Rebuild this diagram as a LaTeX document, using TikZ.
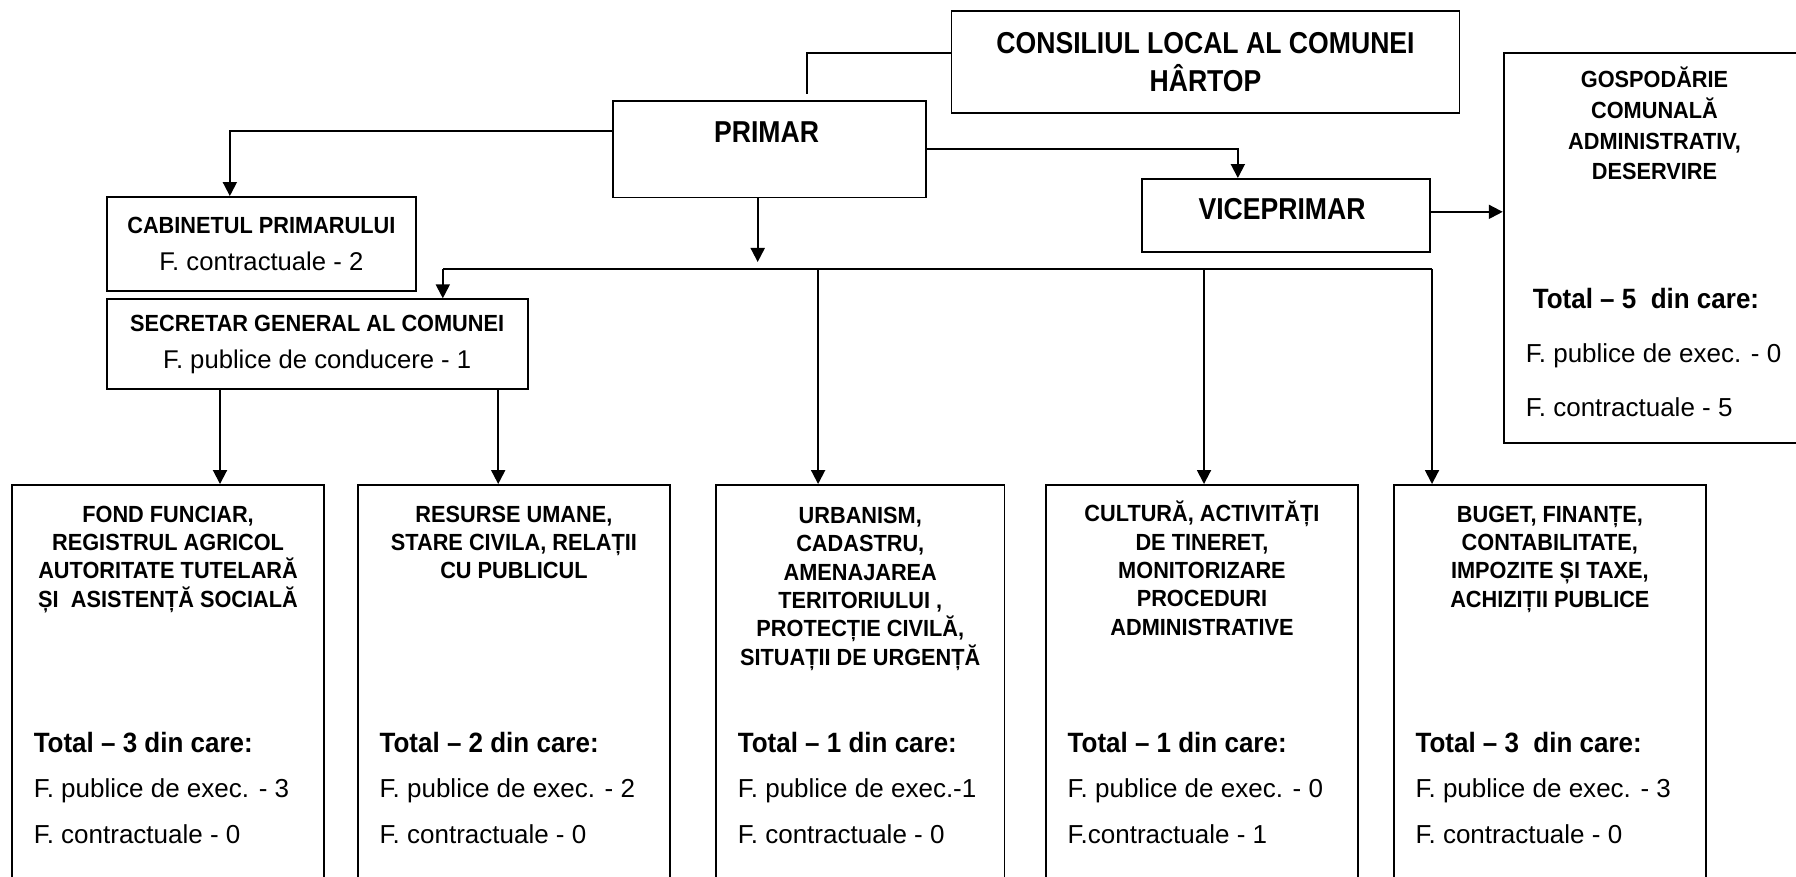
\documentclass[tikz,border=0pt]{standalone}
\usepackage{fontspec}
\setmainfont{Liberation Sans}
\newfontfamily\narrowsans[FakeStretch=0.88]{Liberation Sans}
\newfontfamily\condsans[FakeStretch=0.93]{Liberation Sans}
\usetikzlibrary{arrows.meta}
\lineskiplimit=-20pt
\newcommand{\tot}[1]{{\condsans\bfseries\fontsize{15.9}{26.1}\selectfont #1}}

\tikzset{
  box/.style={draw, line width=1.1pt, inner sep=0pt},
  link/.style={line width=1.1pt},
  arr/.style={line width=1.1pt, -{Triangle[length=2.8mm,width=2.8mm]}},
  big/.style={font=\narrowsans\bfseries\fontsize{17.2}{21.6}\selectfont},
  head/.style={font=\condsans\bfseries\fontsize{13.3}{16.1}\selectfont, align=center, inner sep=0pt, anchor=north},
  staff/.style={font=\fontsize{14.8}{26.1}\selectfont, align=left, inner sep=0pt, anchor=north west}
}

\begin{document}
\begin{tikzpicture}
\useasboundingbox (0,0) rectangle (35.92,17.52);
\clip (0,0) rectangle (35.92,17.52);

% top level
\node[box, big, align=center, minimum width=10.16cm, minimum height=2.03cm] (cons) at (24.11,16.283) {CONSILIUL LOCAL AL COMUNEI\\HÂRTOP};
\node[box, minimum width=6.26cm, minimum height=1.93cm] (primar) at (15.396,14.535) {};
\node[big, anchor=base] (primarT) at (15.33,14.666) {PRIMAR};
\node[box, minimum width=5.766cm, minimum height=1.454cm] (vice) at (25.717,13.213) {};
\node[big, anchor=base] (viceT) at (25.64,13.12) {VICEPRIMAR};

% gospodarie
\node[box, minimum width=6.046cm, minimum height=7.806cm] (gosp) at (33.097,12.563) {};
\node[head, font=\condsans\bfseries\fontsize{13.3}{17.4}\selectfont] (gospT) at (33.09,16.18) {GOSPODĂRIE\\COMUNALĂ\\ADMINISTRATIV,\\DESERVIRE};
\node[staff, font=\fontsize{14.8}{30.8}\selectfont] (gospS) at (30.51,11.76) {\tot{\hspace*{1.4mm}Total – 5\ \ din care:}\\F. publice de exec. - 0\\F. contractuale - 5};

% cabinet, secretar
\node[box, align=center, font=\fontsize{14.6}{20.8}\selectfont, minimum width=6.186cm, minimum height=1.88cm] (cab) at (5.227,12.64) {{\condsans\bfseries\fontsize{13.3}{20.8}\selectfont CABINETUL PRIMARULUI}\\F. contractuale - 2};
\node[box, align=center, font=\fontsize{14.6}{20.8}\selectfont, minimum width=8.42cm, minimum height=1.80cm] (sec) at (6.344,10.634) {{\condsans\bfseries\fontsize{13.3}{20.8}\selectfont SECRETAR GENERAL AL COMUNEI}\\F. publice de conducere - 1};

% compartimente
\node[box, minimum width=6.246cm, minimum height=8.02cm] (fond) at (3.361,3.81) {};
\node[box, minimum width=6.244cm, minimum height=8.02cm] (resurse) at (10.278,3.81) {};
\node[box, minimum width=5.77cm, minimum height=8.02cm] (urban) at (17.205,3.81) {};
\node[box, minimum width=6.246cm, minimum height=8.02cm] (cultura) at (24.039,3.81) {};
\node[box, minimum width=6.246cm, minimum height=8.02cm] (buget) at (30.997,3.81) {};

\node[head] (fondT) at (3.361,7.41) {FOND FUNCIAR,\\REGISTRUL AGRICOL\\AUTORITATE TUTELARĂ\\ȘI\ \ ASISTENȚĂ SOCIALĂ};
\node[head] (resurseT) at (10.278,7.41) {RESURSE UMANE,\\STARE CIVILA, RELAȚII\\CU PUBLICUL};
\node[head] (urbanT) at (17.205,7.38) {URBANISM,\\CADASTRU,\\AMENAJAREA\\TERITORIULUI ,\\PROTECȚIE CIVILĂ,\\SITUAȚII DE URGENȚĂ};
\node[head] (culturaT) at (24.039,7.50) {CULTURĂ, ACTIVITĂȚI\\DE TINERET,\\MONITORIZARE\\PROCEDURI\\ADMINISTRATIVE};
\node[head] (bugetT) at (30.997,7.41) {BUGET, FINANȚE,\\CONTABILITATE,\\IMPOZITE ȘI TAXE,\\ACHIZIȚII PUBLICE};

\node[staff] (fondS) at (0.668,2.89) {\tot{Total – 3 din care:}\\F. publice de exec. - 3\\F. contractuale - 0};
\node[staff] (resurseS) at (7.586,2.89) {\tot{Total – 2 din care:}\\F. publice de exec. - 2\\F. contractuale - 0};
\node[staff] (urbanS) at (14.75,2.89) {\tot{Total – 1 din care:}\\F. publice de exec.-1\\F. contractuale - 0};
\node[staff] (culturaS) at (21.346,2.89) {\tot{Total – 1 din care:}\\F. publice de exec. - 0\\F.contractuale - 1};
\node[staff] (bugetS) at (28.304,2.89) {\tot{Total – 3\ \ din care:}\\F. publice de exec. - 3\\F. contractuale - 0};

% legaturi
\draw[link] ([yshift=1.8mm]cons.west) -| ([xshift=7.4mm,yshift=1.2mm]primar.north);
\draw[arr] ([yshift=3.6mm]primar.west) -| ([xshift=-6.3mm]cab.north);
\draw[arr] (primar.east) -| ([xshift=-9.6mm]vice.north);
\coordinate (vo) at ([yshift=0.7mm]vice.east);
\draw[arr] (vo) -- (vo -| gosp.west);
\coordinate (pdown) at (15.154,12.28);
\draw[arr] (pdown |- primar.south) -- (pdown);

\coordinate (busL) at (8.856,12.14);
\coordinate (busU) at (16.362,12.14);
\coordinate (busC) at (24.08,12.14);
\coordinate (busR) at (28.64,12.14);
\draw[link] (busL) -- (busR);
\draw[arr] (busL) -- (busL |- sec.north);
\draw[arr] (busU) -- (busU |- urban.north);
\draw[arr] (busC) -- (busC |- cultura.north);
\draw[arr] (busR) -- (busR |- buget.north);

\coordinate (sf) at (4.40,0);
\coordinate (sr) at (9.964,0);
\draw[arr] (sf |- sec.south) -- (sf |- fond.north);
\draw[arr] (sr |- sec.south) -- (sr |- resurse.north);
\end{tikzpicture}
\end{document}
